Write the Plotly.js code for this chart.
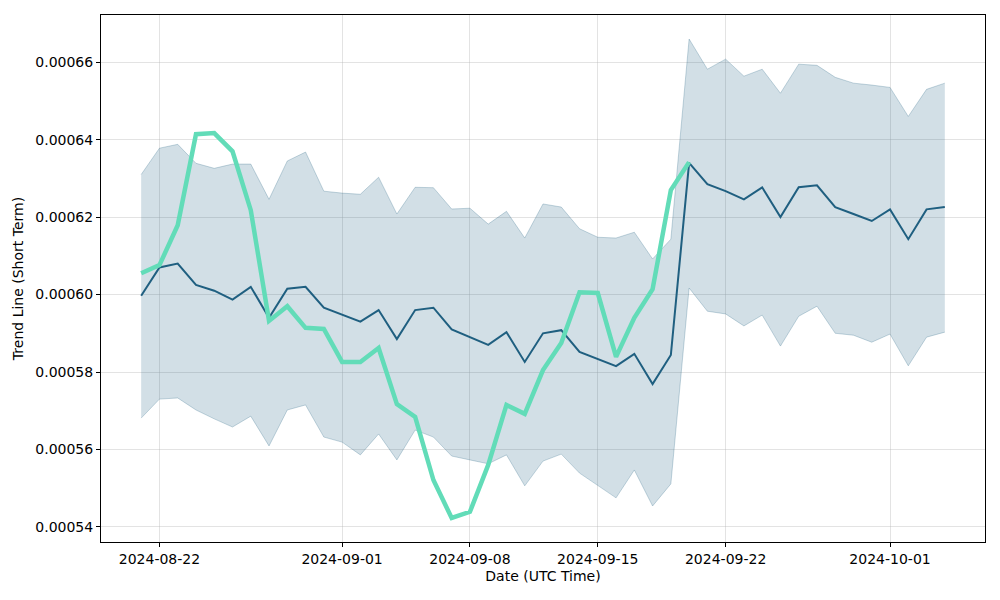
<!DOCTYPE html>
<html>
<head>
<meta charset="utf-8">
<script src="https://cdn.plot.ly/plotly-3.0.1.min.js"></script>
<style>
  body { margin: 0; background: #fff; }
  #chart { width: 1000px; height: 600px; }
</style>
</head>
<body>
<div id="chart"></div>
<script>
// Daily dates, 2024-08-21 .. 2024-10-04
var startDate = new Date(Date.UTC(2024, 7, 21));
var dates = [];
for (var i = 0; i < 45; i++) {
  var d = new Date(startDate.getTime() + i * 86400000);
  dates.push(d.toISOString().slice(0, 10));
}

// Trend line (dark)
var trendValues = [
  0.0005997, 0.000607, 0.000608, 0.0006025, 0.000601, 0.0005987, 0.000602, 0.000594,
  0.0006015, 0.000602, 0.0005966, 0.0005947, 0.000593, 0.000596, 0.0005885, 0.000596,
  0.0005966, 0.000591, 0.000589, 0.000587, 0.0005903, 0.0005826, 0.00059, 0.0005908,
  0.0005852, 0.0005834, 0.0005815, 0.0005847, 0.0005769, 0.0005844, 0.000634, 0.0006285,
  0.0006267, 0.0006246, 0.0006277, 0.00062, 0.0006277, 0.0006282, 0.0006226, 0.0006208,
  0.000619, 0.000622, 0.0006143, 0.000622, 0.0006226
];

// Upper / lower band
var upperValues = [
  0.000631, 0.0006378, 0.0006388, 0.0006339, 0.0006326, 0.0006337, 0.0006337, 0.0006246,
  0.0006345, 0.0006368, 0.0006267, 0.0006262, 0.0006259, 0.0006303, 0.0006208, 0.0006277,
  0.0006276, 0.0006221, 0.0006223, 0.0006182, 0.0006215, 0.0006146, 0.0006234, 0.0006226,
  0.000617, 0.0006148, 0.0006146, 0.0006161, 0.0006092, 0.0006143, 0.000666, 0.0006582,
  0.0006608, 0.0006564, 0.0006582, 0.000652, 0.0006595, 0.0006592, 0.0006561, 0.0006546,
  0.0006541, 0.0006535, 0.000646, 0.000653, 0.0006546
];
var lowerValues = [
  0.0005681, 0.000573, 0.0005733, 0.0005702, 0.0005679, 0.0005658, 0.0005686, 0.0005609,
  0.0005702, 0.0005715, 0.0005632, 0.0005619, 0.0005586, 0.000564, 0.0005573, 0.000565,
  0.0005632, 0.0005583, 0.0005573, 0.0005563, 0.0005586, 0.0005506, 0.000557, 0.0005588,
  0.0005539, 0.0005508, 0.0005475, 0.0005547, 0.0005454, 0.0005511, 0.0006017, 0.0005957,
  0.000595, 0.0005919, 0.0005947, 0.0005867, 0.0005944, 0.000597, 0.00059, 0.0005895,
  0.0005877, 0.0005898, 0.0005816, 0.000589, 0.0005903
];

// Actual price (green), 2024-08-21 .. 2024-09-20
var priceValues = [
  0.0006055, 0.0006076, 0.0006179, 0.0006414, 0.0006417, 0.000637, 0.0006218, 0.0005932,
  0.000597, 0.0005914, 0.0005911, 0.0005826, 0.0005826, 0.0005862, 0.0005717, 0.0005684,
  0.0005521, 0.0005423, 0.0005439, 0.000556, 0.0005715, 0.0005692, 0.0005805, 0.0005875,
  0.0006006, 0.0006004, 0.0005839, 0.000594, 0.0006014, 0.000627, 0.0006342
];
var priceDates = dates.slice(0, priceValues.length);

var tickDates = ["2024-08-22", "2024-09-01", "2024-09-08", "2024-09-15", "2024-09-22", "2024-10-01"];

var bandEdge = "rgba(31,95,128,0.25)";

var lower = {
  x: dates, y: lowerValues, type: "scatter", mode: "lines",
  line: { color: bandEdge, width: 1 }, hoverinfo: "skip", showlegend: false
};
var upper = {
  x: dates, y: upperValues, type: "scatter", mode: "lines",
  fill: "tonexty", fillcolor: "rgba(31,95,128,0.2)",
  line: { color: bandEdge, width: 1 }, hoverinfo: "skip", showlegend: false
};
var trend = {
  x: dates, y: trendValues, type: "scatter", mode: "lines",
  line: { color: "#1f5f80", width: 2 }, showlegend: false
};
var price = {
  x: priceDates, y: priceValues, type: "scatter", mode: "lines",
  line: { color: "#62dcb8", width: 4.5 }, showlegend: false
};

var axisCommon = {
  showline: true, mirror: true, linecolor: "#000", linewidth: 1,
  ticks: "outside", ticklen: 4, tickcolor: "#000",
  showgrid: true, gridcolor: "rgba(176,176,176,0.35)", gridwidth: 1,
  zeroline: false,
  tickfont: { family: "DejaVu Sans", size: 14, color: "#000" }
};

var layout = {
  width: 1000, height: 600,
  margin: { l: 101, r: 15, t: 15, b: 58 },
  paper_bgcolor: "#fff", plot_bgcolor: "#fff",
  font: { family: "DejaVu Sans", size: 14, color: "#000" },
  xaxis: Object.assign({}, axisCommon, {
    type: "date",
    range: ["2024-08-18 19:12", "2024-10-06 04:48"],
    tickvals: tickDates, tickformat: "%Y-%m-%d",
    title: { text: "Date (UTC Time)", font: { size: 14 }, standoff: 5 }
  }),
  yaxis: Object.assign({}, axisCommon, {
    range: [0.0005361, 0.0006722],
    dtick: 0.00002, tick0: 0.00054, tickformat: ".5f",
    title: { text: "Trend Line (Short Term)", font: { size: 14 }, standoff: 8 }
  })
};

Plotly.newPlot("chart", [lower, upper, trend, price], layout, { displayModeBar: false });
</script>
</body>
</html>
